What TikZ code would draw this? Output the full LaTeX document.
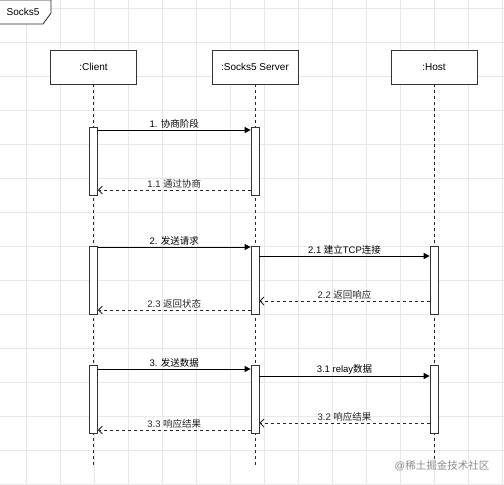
\documentclass[tikz,border=0pt]{standalone}
\usepackage{fontspec}
\setmainfont{Liberation Sans}
\newfontfamily\cjk{Noto Sans CJK SC}
\usetikzlibrary{arrows.meta}

\begin{document}
\begin{tikzpicture}[x=1pt, y=-1pt, >=Stealth, line width=0.8pt,
    actor/.style={draw=black!80, fill=white, minimum width=86pt, minimum height=34pt, font=\fontsize{10}{12}\selectfont},
    bar/.style={draw=black!80, fill=white, minimum width=8pt, minimum height=68pt, inner sep=0pt},
    life/.style={dashed, black!85},
    call/.style={-{Triangle[length=6pt,width=6pt]}, black},
    reply/.style={dashed, -{Straight Barb[length=4pt,width=8pt]}, black!85},
    lbl/.style={above, inner sep=1.5pt, font=\fontsize{9.5}{11}\selectfont},
    gridline/.style={line width=0.6pt, black!9}]
    % 背景和网格
    \useasboundingbox (0,0) rectangle (504,485);
    \fill[white] (0,0) rectangle (504,485);
    \foreach \gx in {26,60,...,502} \draw[gridline] (\gx,0) -- (\gx,485);
    \foreach \gy in {8,42,...,484} \draw[gridline] (0,\gy) -- (504,\gy);

    % 标题框 Socks5
    \draw[draw=black!85, fill=white] (0,0) -- (51,0) -- (51,13) -- (43,24) -- (0,24);
    \node[font=\fontsize{10}{12}\selectfont] (title) at (23,12) {Socks5};

    % 三个参与者
    \node[actor] (client) at (93.5,67) {:Client};
    \node[actor] (server) at (255,67) {:Socks5 Server};
    \node[actor] (host) at (434,67) {:Host};

    % 生命线
    \coordinate (cEnd) at (93.5,465);
    \coordinate (sEnd) at (255,465);
    \coordinate (hEnd) at (434,462);
    \draw[life] (client.south) -- (cEnd);
    \draw[life] (server.south) -- (sEnd);
    \draw[life] (host.south) -- (hEnd);

    % 激活条
    \node[bar] (c1) at (93.5,161) {};
    \node[bar] (s1) at (255,161) {};
    \node[bar] (c2) at (93.5,280) {};
    \node[bar] (s2) at (255,280) {};
    \node[bar] (h2) at (434,280) {};
    \node[bar] (c3) at (93.5,399) {};
    \node[bar] (s3) at (255,399) {};
    \node[bar] (h3) at (434,399) {};

    % 1. 协商
    \draw[call] (c1.east |- 0,130) -- (s1.west |- 0,130) node[lbl, midway] {1. {\cjk 协商阶段}};
    \draw[reply] (s1.west |- 0,190) -- (c1.east |- 0,190) node[lbl, midway] {1.1 {\cjk 通过协商}};

    % 2. 请求
    \draw[call] (c2.east |- 0,247) -- (s2.west |- 0,247) node[lbl, midway] {2. {\cjk 发送请求}};
    \draw[call] (s2.east |- 0,256) -- (h2.west |- 0,256) node[lbl, midway] {2.1 {\cjk 建立}TCP{\cjk 连接}};
    \draw[reply] (h2.west |- 0,301) -- (s2.east |- 0,301) node[lbl, midway] {2.2 {\cjk 返回响应}};
    \draw[reply] (s2.west |- 0,310) -- (c2.east |- 0,310) node[lbl, midway] {2.3 {\cjk 返回状态}};

    % 3. 数据
    \draw[call] (c3.east |- 0,369) -- (s3.west |- 0,369) node[lbl, midway] {3. {\cjk 发送数据}};
    \draw[call] (s3.east |- 0,376) -- (h3.west |- 0,376) node[lbl, midway] {3.1 relay{\cjk 数据}};
    \draw[reply] (h3.west |- 0,423) -- (s3.east |- 0,423) node[lbl, midway] {3.2 {\cjk 响应结果}};
    \draw[reply] (s3.west |- 0,430) -- (c3.east |- 0,430) node[lbl, midway] {3.3 {\cjk 响应结果}};

    % 水印
    \node[text=black!45, font=\fontsize{10.5}{12}\selectfont] (mark) at (442,466) {@{\cjk 稀土掘金技术社区}};
\end{tikzpicture}
\end{document}
